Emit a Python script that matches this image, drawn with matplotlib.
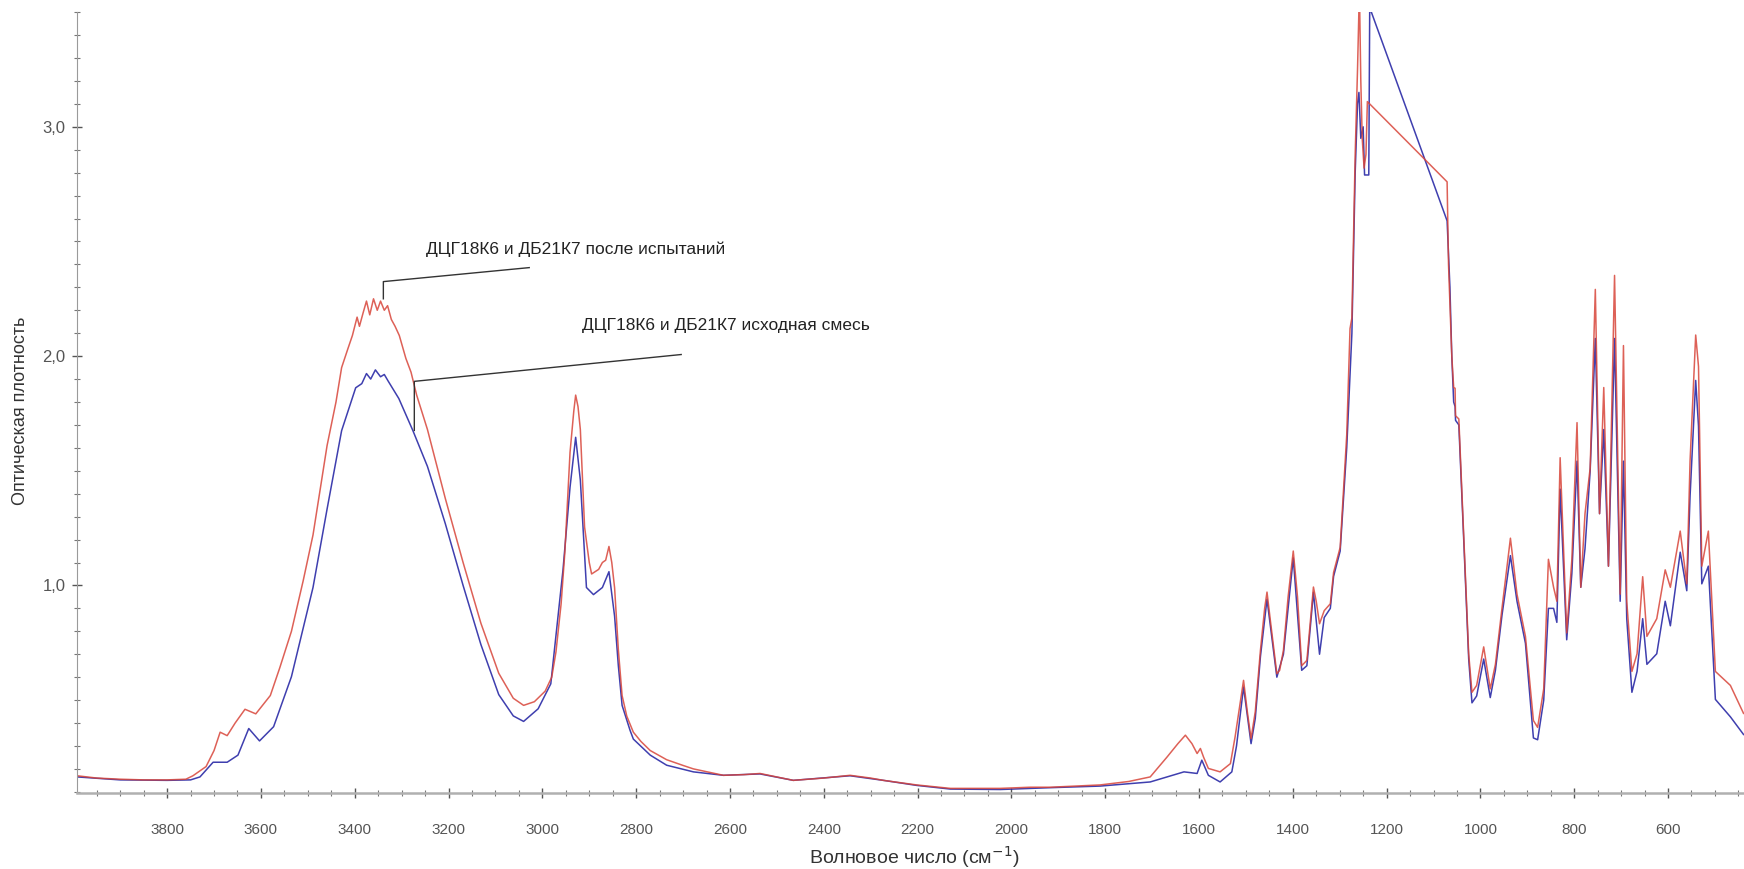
import matplotlib
matplotlib.use('Agg')
import matplotlib.pyplot as plt
from matplotlib.ticker import MultipleLocator, FuncFormatter

# ДЦГ18К6 и ДБ21К7 после испытаний (red)
wn_after = [3992, 3950, 3900, 3850, 3800, 3760, 3745, 3717, 3700, 3687, 3672, 3655, 3634, 3611, 3580,
            3560, 3535, 3510, 3489, 3459, 3440, 3428, 3415, 3405, 3395, 3390, 3382, 3375, 3368, 3360,
            3352, 3345, 3337, 3330, 3322, 3314, 3305, 3291, 3280, 3268, 3245, 3207, 3169, 3131, 3093,
            3062, 3040, 3017, 2994, 2980, 2971, 2960, 2952, 2941, 2933, 2929, 2924, 2919, 2910, 2900,
            2895, 2880, 2872, 2865, 2858, 2852, 2846, 2838, 2830, 2820, 2806, 2790, 2770, 2735, 2700,
            2678, 2614, 2570, 2536, 2500, 2465, 2400, 2344, 2300, 2273, 2202, 2130, 2024, 1960, 1917,
            1811, 1750, 1704, 1668, 1645, 1629, 1615, 1604, 1597, 1590, 1580, 1555, 1533, 1523, 1515,
            1505, 1497, 1489, 1480, 1469, 1460, 1455, 1448, 1434, 1428, 1420, 1410, 1399, 1390, 1381,
            1370, 1356, 1350, 1343, 1333, 1320, 1313, 1299, 1285, 1278, 1274, 1267, 1262, 1258, 1255,
            1252, 1248, 1244, 1241, 1071, 1068, 1061, 1057, 1054, 1053, 1046, 1036, 1025, 1018, 1008,
            993, 979, 968, 954, 936, 922, 904, 887, 878, 865, 855, 844, 837, 830, 816,
            805, 794, 786, 777, 766, 755, 746, 737, 727, 714, 702, 695, 688, 677, 666,
            654, 645, 624, 606, 595, 574, 560, 553, 541, 535, 528, 514, 499, 467, 439]
ab_after = [0.17, 0.16, 0.155, 0.152, 0.152, 0.155, 0.17, 0.21, 0.28, 0.36, 0.345, 0.40, 0.46, 0.44, 0.52,
            0.64, 0.80, 1.02, 1.22, 1.61, 1.80, 1.95, 2.03, 2.09, 2.17, 2.13, 2.19, 2.24, 2.18, 2.25,
            2.20, 2.24, 2.20, 2.22, 2.16, 2.13, 2.09, 1.99, 1.93, 1.83, 1.68, 1.38, 1.10, 0.835, 0.617,
            0.508, 0.477, 0.493, 0.539, 0.60, 0.71, 0.92, 1.146, 1.58, 1.76, 1.83, 1.78, 1.68, 1.255, 1.10,
            1.05, 1.07, 1.10, 1.11, 1.17, 1.10, 0.99, 0.72, 0.52, 0.43, 0.36, 0.32, 0.28, 0.24, 0.215,
            0.20, 0.172, 0.175, 0.18, 0.165, 0.15, 0.16, 0.172, 0.16, 0.15, 0.13, 0.115, 0.115, 0.12, 0.12,
            0.13, 0.145, 0.165, 0.252, 0.31, 0.347, 0.31, 0.267, 0.289, 0.25, 0.202, 0.187, 0.223, 0.34, 0.45,
            0.586, 0.45, 0.332, 0.45, 0.717, 0.90, 0.971, 0.85, 0.615, 0.63, 0.717, 0.95, 1.15, 0.95, 0.65,
            0.673, 0.993, 0.93, 0.833, 0.89, 0.92, 1.057, 1.166, 1.657, 2.12, 2.167, 2.88, 3.25, 3.6, 3.2,
            2.95, 2.82, 2.88, 3.11, 2.76, 2.4, 2.0, 1.863, 1.86, 1.74, 1.726, 1.237, 0.702, 0.534, 0.564,
            0.732, 0.549, 0.656, 0.900, 1.206, 0.962, 0.778, 0.411, 0.381, 0.549, 1.114, 0.992, 0.931, 1.557, 0.793,
            1.114, 1.710, 0.992, 1.313, 1.512, 2.291, 1.313, 1.863, 1.084, 2.352, 0.962, 2.046, 0.931, 0.625, 0.702,
            1.038, 0.778, 0.855, 1.068, 0.992, 1.237, 1.007, 1.542, 2.092, 1.955, 1.084, 1.237, 0.625, 0.564, 0.442]

# ДЦГ18К6 и ДБ21К7 исходная смесь (blue)
wn_init = [3992, 3900, 3800, 3750, 3730, 3702, 3672, 3649, 3626, 3603, 3573, 3535, 3489, 3459, 3428,
           3398, 3385, 3375, 3366, 3356, 3345, 3337, 3329, 3306, 3276, 3245, 3207, 3169, 3131, 3093,
           3062, 3040, 3009, 2982, 2956, 2941, 2929, 2919, 2906, 2891, 2872, 2858, 2846, 2838, 2830,
           2813, 2806, 2770, 2735, 2678, 2614, 2536, 2465, 2344, 2273, 2202, 2130, 2024, 1917, 1811,
           1704, 1660, 1632, 1604, 1594, 1580, 1555, 1530, 1520, 1505, 1489, 1480, 1469, 1455, 1434,
           1420, 1399, 1381, 1370, 1356, 1343, 1333, 1320, 1313, 1299, 1285, 1274, 1267, 1262, 1259,
           1255, 1250, 1247, 1238, 1236, 1071, 1065, 1061, 1057, 1054, 1053, 1046, 1036, 1025, 1018,
           1008, 993, 979, 968, 954, 936, 922, 904, 887, 878, 865, 855, 844, 837, 830,
           816, 805, 794, 786, 777, 766, 755, 746, 737, 727, 714, 702, 695, 688, 677,
           666, 654, 645, 624, 606, 595, 574, 560, 553, 541, 535, 528, 514, 499, 467, 439]
ab_init = [0.165, 0.152, 0.15, 0.152, 0.165, 0.229, 0.229, 0.26, 0.376, 0.322, 0.384, 0.602, 0.991, 1.333, 1.675,
           1.862, 1.88, 1.924, 1.90, 1.94, 1.91, 1.92, 1.892, 1.815, 1.675, 1.519, 1.27, 1.0, 0.742, 0.524,
           0.431, 0.407, 0.462, 0.571, 1.068, 1.428, 1.646, 1.459, 0.991, 0.96, 0.991, 1.06, 0.866, 0.65, 0.477,
           0.368, 0.33, 0.26, 0.216, 0.187, 0.172, 0.178, 0.15, 0.17, 0.15, 0.128, 0.112, 0.11, 0.118, 0.125,
           0.143, 0.17, 0.187, 0.18, 0.238, 0.172, 0.143, 0.187, 0.30, 0.557, 0.31, 0.42, 0.69, 0.94, 0.60,
           0.70, 1.12, 0.63, 0.65, 0.97, 0.70, 0.86, 0.90, 1.04, 1.15, 1.60, 2.10, 2.80, 3.10, 3.15,
           2.95, 3.00, 2.79, 2.79, 3.52, 2.59, 2.3, 2.0, 1.80, 1.78, 1.72, 1.70, 1.22, 0.68, 0.488,
           0.518, 0.679, 0.511, 0.63, 0.870, 1.130, 0.931, 0.748, 0.335, 0.327, 0.50, 0.90, 0.90, 0.839, 1.420,
           0.763, 1.053, 1.542, 0.992, 1.160, 1.50, 2.077, 1.313, 1.680, 1.084, 2.077, 0.931, 1.542, 0.855, 0.534,
           0.625, 0.855, 0.656, 0.702, 0.931, 0.824, 1.145, 0.977, 1.389, 1.894, 1.695, 1.007, 1.084, 0.503, 0.427, 0.350]

x_ticks = [3800, 3600, 3400, 3200, 3000, 2800, 2600, 2400, 2200, 2000, 1800, 1600, 1400, 1200, 1000, 800, 600]
y_ticks = [1.0, 2.0, 3.0]

label_after = 'ДЦГ18К6 и ДБ21К7 после испытаний'
label_init = 'ДЦГ18К6 и ДБ21К7 исходная смесь'

plt.rcParams['font.family'] = ['Liberation Sans Narrow', 'Liberation Sans', 'DejaVu Sans']

fig = plt.figure(figsize=(17.44, 8.69), dpi=100)
ax = fig.add_axes([0.0442, 0.0875, 0.9558, 0.8985])

ax.plot(wn_init, ab_init, color='#2a2aa6', linewidth=1.1, alpha=0.9)
ax.plot(wn_after, ab_after, color='#d8453a', linewidth=1.1, alpha=0.85)

ax.set_xlim(3992, 438)
ax.set_ylim(0.095, 3.5)

ax.set_xticks(x_ticks)
ax.xaxis.set_minor_locator(MultipleLocator(50))
ax.set_yticks(y_ticks)
ax.yaxis.set_minor_locator(MultipleLocator(0.1))
ax.yaxis.set_major_formatter(FuncFormatter(lambda v, p: f'{v:.1f}'.replace('.', ',')))

for s in ['top', 'right']:
    ax.spines[s].set_visible(False)
ax.spines['left'].set_color('#9a9a9a')
ax.spines['bottom'].set_color('#b0b0b0')
ax.spines['bottom'].set_linewidth(1.8)
ax.tick_params(axis='both', which='major', direction='inout', length=7, width=1, colors='#555555',
               labelcolor='#555555')
ax.tick_params(axis='both', which='minor', direction='inout', length=4, width=0.8, colors='#777777')
ax.tick_params(axis='x', labelsize=11, pad=18)
ax.tick_params(axis='y', labelsize=12, pad=5)

ax.set_ylabel('Оптическая плотность', fontsize=13, color='#333333', va='center')
ax.yaxis.set_label_coords(-0.034, 0.49)
ax.set_xlabel('Волновое число (см$^{-1}$)', fontsize=14, color='#333333', va='top')
ax.xaxis.set_label_coords(0.502, -0.066)

# leader lines and labels
ax.plot([3339, 3339, 3028], [2.25, 2.325, 2.386], color='#333333', linewidth=1.0)
ax.text(3248, 2.464, label_after, fontsize=12.5, color='#222222', va='center', ha='left')
ax.plot([3273, 3273, 2704], [1.676, 1.89, 2.007], color='#333333', linewidth=1.0)
ax.text(2915, 2.133, label_init, fontsize=12.5, color='#222222', va='center', ha='left')

plt.savefig('out.png', dpi=100)
plt.close()
